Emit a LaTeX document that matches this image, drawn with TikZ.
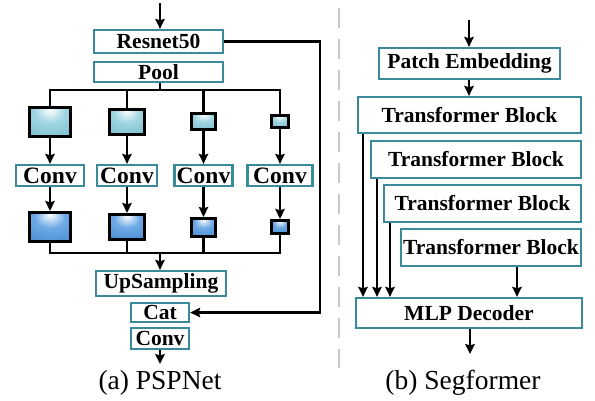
\documentclass[tikz,border=0pt]{standalone}
\usepackage{fontspec}
\setmainfont{Liberation Serif}
\usetikzlibrary{arrows.meta}
\definecolor{teal1}{RGB}{58,138,155}
\definecolor{lcyan}{RGB}{160,214,226}
\definecolor{dcyan}{RGB}{80,160,185}
\definecolor{lblue}{RGB}{110,170,230}
\definecolor{dblue}{RGB}{25,105,185}
\definecolor{dashgray}{RGB}{200,200,200}
\pgfdeclareradialshading{glowA}{\pgfpoint{0bp}{22bp}}{color(0bp)=(white);color(18bp)=(lcyan);color(70bp)=(dcyan)}
\pgfdeclareradialshading{glowB}{\pgfpoint{0bp}{22bp}}{color(0bp)=(white);color(18bp)=(lblue);color(70bp)=(dblue)}
\tikzset{
  tbox/.style={draw=teal1, line width=2.3pt, fill=white, inner sep=0pt,
    font=\fontsize{21.5}{23}\selectfont\bfseries},
  bigconv/.style={tbox, font=\fontsize{23.5}{25}\selectfont\bfseries},
  blkA/.style={draw=black, line width=2.7pt, shading=glowA, inner sep=0pt},
  blkB/.style={draw=black, line width=2.7pt, shading=glowB, inner sep=0pt},
  ln/.style={draw=black, line width=2.4pt},
  arr/.style={ln, -{Stealth[length=10pt,width=9.5pt,inset=1.5pt]}},
  captext/.style={font=\fontsize{27.5}{30}\selectfont, anchor=base, inner sep=0pt}
}
\begin{document}
\begin{tikzpicture}[x=1pt,y=-1pt]
\useasboundingbox (0,0) rectangle (595,400);
% ---------- PSPNet ----------
\node[tbox, minimum width=129, minimum height=23] (res) at (158.5,41.5) {Resnet50};
\node[tbox, minimum width=129, minimum height=20] (pool) at (158.5,72) {Pool};
\coordinate (in1) at (160,3);
\draw[arr] (in1) -- (res.north -| in1);

\node[blkA, minimum width=41.5, minimum height=29.5] (a1) at (50,122) {};
\node[blkA, minimum width=34.5, minimum height=25.5] (a2) at (127,122) {};
\node[blkA, minimum width=24.5, minimum height=16.5] (a3) at (203.5,121.5) {};
\node[blkA, minimum width=17.5, minimum height=12.5] (a4) at (280,121.5) {};

\node[bigconv, minimum width=68, minimum height=21] (c1) at (50,175.5) {Conv};
\node[bigconv, minimum width=60, minimum height=21] (c2) at (127,175.5) {Conv};
\node[bigconv, minimum width=58, minimum height=21] (c3) at (203.5,175.5) {Conv};
\node[bigconv, minimum width=65, minimum height=21] (c4) at (280,175.5) {Conv};

\node[blkB, minimum width=41.5, minimum height=29.5] (b1) at (50,227) {};
\node[blkB, minimum width=34.5, minimum height=25.5] (b2) at (127,227) {};
\node[blkB, minimum width=24.5, minimum height=18.5] (b3) at (203.5,227.5) {};
\node[blkB, minimum width=17.5, minimum height=13.5] (b4) at (280,227) {};

\node[tbox, minimum width=130, minimum height=25] (up) at (161,283.5) {UpSampling};
\node[tbox, minimum width=58, minimum height=19] (cat) at (160,312.5) {Cat};
\node[tbox, minimum width=58, minimum height=21] (conv) at (160,338.5) {Conv};
\coordinate (out1) at (160,364);

% split lines
\coordinate (sp) at (160,90);
\draw[ln] (pool.south -| sp) -- (sp);
\draw[ln] (a1.north) -- (a1.north |- sp) -- (a4.north |- sp) -- (a4.north);
\draw[ln] (a2.north) -- (a2.north |- sp);
\draw[ln] (a3.north) -- (a3.north |- sp);
\foreach \i in {1,2,3,4}{
  \draw[arr] (a\i.south) -- (c\i.north -| a\i.south);
  \draw[arr] (c\i.south -| b\i.north) -- (b\i.north);
}
% merge lines
\coordinate (mg) at (160,253);
\draw[ln] (b1.south) -- (b1.south |- mg) -- (b4.south |- mg) -- (b4.south);
\draw[ln] (b2.south) -- (b2.south |- mg);
\draw[ln] (b3.south) -- (b3.south |- mg);
\draw[arr] (mg) -- (up.north -| mg);
\draw[arr] (conv.south -| out1) -- (out1);
\coordinate (skip) at (320,41.5);
\draw[arr] (res.east) -- (skip) -- (skip |- cat.east) -- (cat.east);

\node[captext] (capa) at (160,389) {(a) PSPNet};

% ---------- divider ----------
\coordinate (d1) at (339,8);
\coordinate (d2) at (339,368);
\draw[dashgray, line width=2.5pt, dash pattern=on 20pt off 11pt] (d1) -- (d2);

% ---------- Segformer ----------
\node[tbox, minimum width=181, minimum height=31] (pe) at (469.5,63.5) {Patch Embedding};
\node[tbox, minimum width=223, minimum height=36] (t1) at (469.5,115) {Transformer Block};
\node[tbox, minimum width=210, minimum height=37] (t2) at (476,159.5) {Transformer Block};
\node[tbox, minimum width=197, minimum height=37] (t3) at (482.5,203.5) {Transformer Block};
\node[tbox, minimum width=180, minimum height=37] (t4) at (491,247.5) {Transformer Block};
\node[tbox, minimum width=226, minimum height=30] (mlp) at (469,313) {MLP Decoder};
\coordinate (in2) at (469,20);
\coordinate (out2) at (470,354);
\draw[arr] (in2) -- (pe.north -| in2);
\draw[arr] (pe.south -| in2) -- (t1.north -| in2);
\coordinate (v1) at (363,0);
\coordinate (v2) at (377,0);
\coordinate (v3) at (390,0);
\coordinate (v4) at (517,0);
\draw[arr] (t1.south -| v1) -- (mlp.north -| v1);
\draw[arr] (t2.south -| v2) -- (mlp.north -| v2);
\draw[arr] (t3.south -| v3) -- (mlp.north -| v3);
\draw[arr] (t4.south -| v4) -- (mlp.north -| v4);
\draw[arr] (mlp.south -| out2) -- (out2);

\node[captext] (capb) at (463,389) {(b) Segformer};
\end{tikzpicture}
\end{document}
